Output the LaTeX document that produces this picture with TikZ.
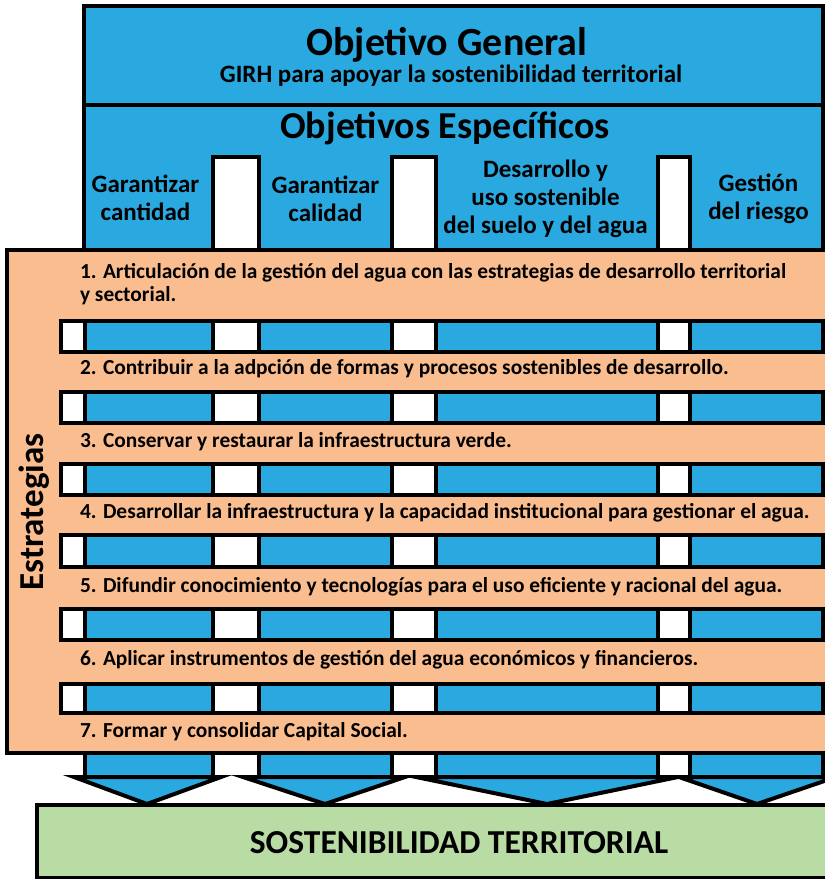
\documentclass[tikz,border=0pt]{standalone}
\usepackage{fontspec}
\setmainfont{Carlito}
\definecolor{objblue}{HTML}{29A9E0}
\definecolor{estorange}{HTML}{FABD8F}
\definecolor{sostgreen}{HTML}{B9DCA5}

\begin{document}
\begin{tikzpicture}[x=1pt, y=-1pt, line width=4pt,
  bluebox/.style={draw=black, fill=objblue},
  gapbox/.style={draw=black, fill=white},
  estbox/.style={draw=black, fill=estorange},
  sostbox/.style={draw=black, fill=sostgreen},
  titletext/.style={font=\fontsize{38}{44}\selectfont\bfseries, anchor=base, inner sep=0pt},
  subtext/.style={font=\fontsize{25}{28}\selectfont\bfseries, anchor=base, inner sep=0pt},
  coltext/.style={font=\fontsize{25}{28}\selectfont\bfseries, align=center, inner sep=0pt},
  esttext/.style={font=\fontsize{21.4}{23}\selectfont\bfseries, anchor=base west, align=left, inner sep=0pt}]

\useasboundingbox (0,0) rectangle (825,879);
\clip (0,0) rectangle (825,879);

% Objetivo General
\draw [bluebox] (84,6) rectangle (823,105);
\node [titletext, font=\fontsize{40}{44}\selectfont\bfseries] (general) at (447,55) {Objetivo General};
\node [subtext]   (girh)    at (451,82) {GIRH para apoyar la sostenibilidad territorial};

% Objetivos Especificos
\draw [bluebox] (84,105) rectangle (823,270);
\draw [gapbox]  (212.5,156.5) rectangle (259,270);
\draw [gapbox]  (392,156.5)   rectangle (435.5,270);
\draw [gapbox]  (657.5,156.5) rectangle (690,270);
\node [titletext] (especificos) at (445,138) {Objetivos Específicos};

\node [coltext] (cantidad) at (145.5,198) {Garantizar\\cantidad};
\node [coltext] (calidad)  at (325.5,199) {Garantizar\\calidad};
\node [coltext] (suelo)    at (545.5,199) {Desarrollo y\\uso sostenible\\del suelo y del agua};
\node [coltext] (riesgo)   at (758.5,199) {Gestión\\del riesgo};

% Estrategias
\draw [estbox] (7,250) rectangle (840,753);
\node [font=\fontsize{35}{40}\selectfont\bfseries, rotate=90, anchor=base, inner sep=0pt] (estrategias) at (43,512) {Estrategias};

% -------- strips -----------
\draw [gapbox]  (61,321) rectangle (84.5,352) (212.5,321) rectangle (259,352) (392,321) rectangle (435.5,352) (657.5,321) rectangle (690,352);
\draw [bluebox] (84.5,321) rectangle (212.5,352) (259,321) rectangle (392,352) (435.5,321) rectangle (657.5,352) (690,321) rectangle (823,352);

\draw [gapbox]  (61,392) rectangle (84.5,423) (212.5,392) rectangle (259,423) (392,392) rectangle (435.5,423) (657.5,392) rectangle (690,423);
\draw [bluebox] (84.5,392) rectangle (212.5,423) (259,392) rectangle (392,423) (435.5,392) rectangle (657.5,423) (690,392) rectangle (823,423);

\draw [gapbox]  (61,464) rectangle (84.5,495) (212.5,464) rectangle (259,495) (392,464) rectangle (435.5,495) (657.5,464) rectangle (690,495);
\draw [bluebox] (84.5,464) rectangle (212.5,495) (259,464) rectangle (392,495) (435.5,464) rectangle (657.5,495) (690,464) rectangle (823,495);

\draw [gapbox]  (61,535) rectangle (84.5,567) (212.5,535) rectangle (259,567) (392,535) rectangle (435.5,567) (657.5,535) rectangle (690,567);
\draw [bluebox] (84.5,535) rectangle (212.5,567) (259,535) rectangle (392,567) (435.5,535) rectangle (657.5,567) (690,535) rectangle (823,567);

\draw [gapbox]  (61,609) rectangle (84.5,640) (212.5,609) rectangle (259,640) (392,609) rectangle (435.5,640) (657.5,609) rectangle (690,640);
\draw [bluebox] (84.5,609) rectangle (212.5,640) (259,609) rectangle (392,640) (435.5,609) rectangle (657.5,640) (690,609) rectangle (823,640);

\draw [gapbox]  (61,684) rectangle (84.5,713) (212.5,684) rectangle (259,713) (392,684) rectangle (435.5,713) (657.5,684) rectangle (690,713);
\draw [bluebox] (84.5,684) rectangle (212.5,713) (259,684) rectangle (392,713) (435.5,684) rectangle (657.5,713) (690,684) rectangle (823,713);

\node [esttext, anchor=west] (est1) at (78,284) {1. Articulación de la gestión del agua con las estrategias de desarrollo territorial\\y sectorial.};
\node [esttext] (est2) at (78,374) {2. Contribuir a la adpción de formas y procesos sostenibles de desarrollo.};
\node [esttext] (est3) at (78,447) {3. Conservar y restaurar la infraestructura verde.};
\node [esttext] (est4) at (78,518) {4. Desarrollar la infraestructura y la capacidad institucional para gestionar el agua.};
\node [esttext] (est5) at (78,592) {5. Difundir conocimiento y tecnologías para el uso eficiente y racional del agua.};
\node [esttext] (est6) at (78,665) {6. Aplicar instrumentos de gestión del agua económicos y financieros.};
\node [esttext] (est7) at (78,737) {7. Formar y consolidar Capital Social.};

% -------- arrows down -----------
\draw [bluebox] (84.5,753) rectangle (212.5,777) (259,753) rectangle (392,777) (435.5,753) rectangle (657.5,777) (690,753) rectangle (823,777);
\draw [bluebox] (74,777) -- (147,804) -- (221,777) -- cycle;
\draw [bluebox] (243,777) -- (325,804) -- (405,777) -- cycle;
\draw [bluebox] (416,777) -- (547,804) -- (678,777) -- cycle;
\draw [bluebox] (679,777) -- (757,804) -- (836,777) -- cycle;

% Sostenibilidad
\draw [sostbox] (37,805) rectangle (840,878);
\node [font=\fontsize{33.5}{38}\selectfont\bfseries, anchor=base, inner sep=0pt] (sostenibilidad) at (459,853) {SOSTENIBILIDAD TERRITORIAL};
\end{tikzpicture}
\end{document}
